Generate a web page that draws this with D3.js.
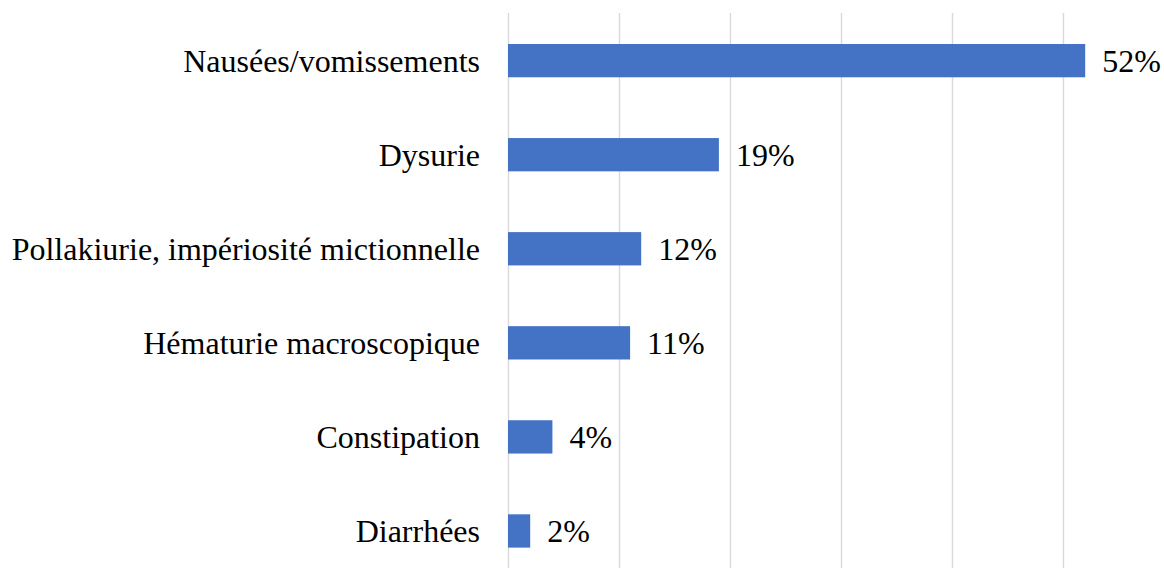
<!DOCTYPE html>
<html>
<head>
<meta charset="utf-8">
<script src="https://cdn.jsdelivr.net/npm/d3@7"></script>
<style>
  body { margin: 0; background: #fff; }
  svg { display: block; }
</style>
</head>
<body>
<svg></svg>
<script>
const width = 1164;
const height = 568;

// data
const categories = [
  "Nausées/vomissements",
  "Dysurie",
  "Pollakiurie, impériosité mictionnelle",
  "Hématurie macroscopique",
  "Constipation",
  "Diarrhées"
];
const values = [52, 19, 12, 11, 4, 2];
const gridTicks = [0, 10, 20, 30, 40, 50, 60];

const svg = d3.select('svg')
    .attr('width', width).attr('height', height);

const x = d3.scaleLinear()
    .domain([0, 60])
    .range([508, 1174]);

const y = d3.scaleBand()
    .domain(categories)
    .range([13.6, 578])
    .paddingInner(0.646)
    .paddingOuter(0.323);

// vertical gridlines
svg.append('g')
    .selectAll('line')
    .data(gridTicks)
    .enter().append('line')
    .attr('x1', d => Math.round(x(d)) + 0.5)
    .attr('x2', d => Math.round(x(d)) + 0.5)
    .attr('y1', 13)
    .attr('y2', 578)
    .style('stroke', '#d9d9d9')
    .style('stroke-width', '1.4px');

const rows = categories.map((c, i) => ({ name: c, value: values[i] }));

svg.append('g')
    .selectAll('rect')
    .data(rows)
    .enter().append('rect')
    .attr('x', x(0))
    .attr('y', d => y(d.name))
    .attr('width', d => x(d.value) - x(0))
    .attr('height', y.bandwidth())
    .style('fill', '#4472C4');

// category labels
svg.append('g')
    .selectAll('text')
    .data(rows)
    .enter().append('text')
    .attr('x', 480)
    .attr('y', d => y(d.name) + y.bandwidth() / 2)
    .attr('dy', '0.34em')
    .attr('text-anchor', 'end')
    .style('font-family', '"Liberation Serif", "Times New Roman", serif')
    .style('font-size', '32px')
    .style('fill', '#000')
    .text(d => d.name);

// value labels
svg.append('g')
    .selectAll('text')
    .data(rows)
    .enter().append('text')
    .attr('x', d => x(d.value) + 17)
    .attr('y', d => y(d.name) + y.bandwidth() / 2)
    .attr('dy', '0.34em')
    .style('font-family', '"Liberation Serif", "Times New Roman", serif')
    .style('font-size', '32px')
    .style('fill', '#000')
    .text(d => d.value + '%');
</script>
</body>
</html>
